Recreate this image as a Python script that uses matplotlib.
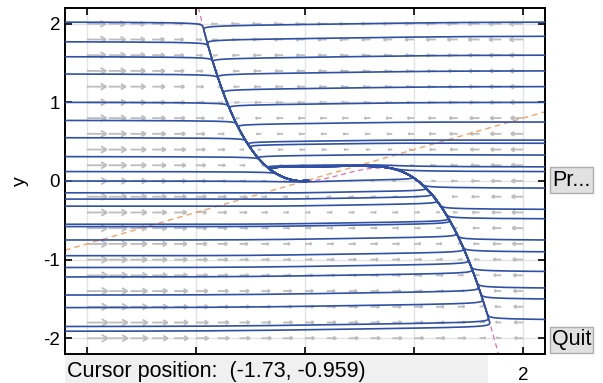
import numpy as np
import matplotlib
matplotlib.use("Agg")
import matplotlib.pyplot as plt
from matplotlib.collections import LineCollection
from matplotlib.patches import Rectangle

plt.rcParams['font.family'] = ['Liberation Sans', 'DejaVu Sans']
plt.rcParams['axes.unicode_minus'] = False

# x-nullcline  y = c2 x^2 + c3 x^3 + c4 x^4  (fitted to the pink dashed curve)
coef = [1.1066, -1.1536, 0.0758]
yslope = 0.4      # y-nullcline  y = 0.4 x
EPS = 0.02

# starting heights of the orbits on the left and right border
left_y0 = [2.02, 1.77, 1.58, 1.36, 1.00, 0.77, 0.55, 0.31, 0.12, 0.00, -0.15,
           -0.23, -0.32, -0.55, -0.58, -0.75, -0.95, -1.10, -1.22, -1.45,
           -1.61, -1.85, -1.91]
right_y0 = [2.02, 1.84, 1.60, 1.40, 1.20, 1.00, 0.75, 0.52, 0.48, 0.33, 0.18,
            0.12, -0.09, -0.36, -0.48, -0.75, -0.90, -1.15, -1.36, -1.50, -1.76]

lim = 2.2
ticks = [-2, -1, 0, 1, 2]
# only the last x tick label peeks out from under the cursor readout
xlabels = ['', '', '', '', '2']


def g(x):
    return coef[0] * x**2 + coef[1] * x**3 + coef[2] * x**4


def rhs(x, y):
    return g(x) - y, EPS * (yslope * x - y)


W, H = 603, 383
fig = plt.figure(figsize=(W / 100, H / 100), dpi=100)
ax = fig.add_axes([65 / W, 1 - 354 / H, 480 / W, 346 / H])
ax.set_xlim(-lim, lim)
ax.set_ylim(-lim, lim)
sx = 480 / (2 * lim)
sy = 346 / (2 * lim)

for t in ticks:
    ax.axvline(t, color='#e3e3e3', lw=1, zorder=0)
    ax.axhline(t, color='#e3e3e3', lw=1, zorder=0)

# direction field
gx = np.linspace(-2, 2, 21)
X, Y = np.meshgrid(gx, gx)
U, V = rhs(X, Y)
pu, pv = U * sx, V * sy
m = np.hypot(pu, pv)
L = 21 * (m / m.max()) ** 0.38
ux, uy = pu / m, pv / m
hx = X + ux * L / sx
hy = Y + uy * L / sy
segs = []
for i in range(X.size):
    x0, y0 = X.flat[i], Y.flat[i]
    x1, y1 = hx.flat[i], hy.flat[i]
    segs.append([(x0, y0), (x1, y1)])
    h = 0.33 * L.flat[i]
    for a in (np.radians(30), -np.radians(30)):
        bx = -(ux.flat[i] * np.cos(a) - uy.flat[i] * np.sin(a)) * h
        by = -(ux.flat[i] * np.sin(a) + uy.flat[i] * np.cos(a)) * h
        segs.append([(x1, y1), (x1 + bx / sx, y1 + by / sy)])
ax.add_collection(LineCollection(segs, colors='#bdbdbd', linewidths=1.3, zorder=1))

# nullclines
xx = np.linspace(-lim, lim, 800)
ax.plot(xx, g(xx), color='#e86aa8', lw=0.9, ls=(0, (4, 3)), zorder=2)
ax.plot(xx, yslope * xx, color='#f4a261', lw=1.0, ls=(0, (4, 3)), zorder=2)

# orbits (RK4, all at once)
x = np.array([-lim] * len(left_y0) + [lim] * len(right_y0), dtype=float)
y = np.array(left_y0 + right_y0, dtype=float)
dt = 0.04
nsteps = int(40 / EPS / dt)
hist_x, hist_y = [x.copy()], [y.copy()]
for n in range(nsteps):
    k1 = rhs(x, y)
    k2 = rhs(x + dt / 2 * k1[0], y + dt / 2 * k1[1])
    k3 = rhs(x + dt / 2 * k2[0], y + dt / 2 * k2[1])
    k4 = rhs(x + dt * k3[0], y + dt * k3[1])
    x = x + dt / 6 * (k1[0] + 2 * k2[0] + 2 * k3[0] + k4[0])
    y = y + dt / 6 * (k1[1] + 2 * k2[1] + 2 * k3[1] + k4[1])
    if n % 3 == 0:
        hist_x.append(x.copy())
        hist_y.append(y.copy())
hist_x = np.array(hist_x)
hist_y = np.array(hist_y)
for j in range(hist_x.shape[1]):
    ax.plot(hist_x[:, j], hist_y[:, j], color='#2f50a5', lw=1.2, zorder=3)

ax.set_xticks(ticks)
ax.set_xticklabels(xlabels)
ax.set_yticks(ticks)
ax.tick_params(direction='in', top=True, right=True, length=5, width=1.2,
               labelsize=13.5, colors='black')
ax.tick_params(axis='x', pad=9)
for s in ax.spines.values():
    s.set_linewidth(1.4)
ax.set_ylabel('y', fontsize=14)
ax.yaxis.set_label_coords((29 - 65) / 480, 0.5)

# cursor readout box under the axes
fig.patches.append(Rectangle((65 / W, 0), (488 - 65) / W, 28 / H, transform=fig.transFigure,
                             facecolor='#f0f0f0', edgecolor='none', zorder=10))
fig.text(67 / W, 1 - 371 / H, 'Cursor position:  (-1.73, -0.959)', fontsize=15.5,
         va='center', ha='left', zorder=11)

# buttons
for label, top in (('Pr...', 167), ('Quit', 327)):
    fig.patches.append(Rectangle((550 / W, 1 - (top + 26) / H), 43 / W, 26 / H,
                                 transform=fig.transFigure, facecolor='#e1e1e1',
                                 edgecolor='#adadad', lw=1, zorder=10))
    fig.text(552 / W, 1 - (top + 13) / H, label, fontsize=15.5, va='center', ha='left', zorder=11)

fig.savefig('out.png', dpi=100)
